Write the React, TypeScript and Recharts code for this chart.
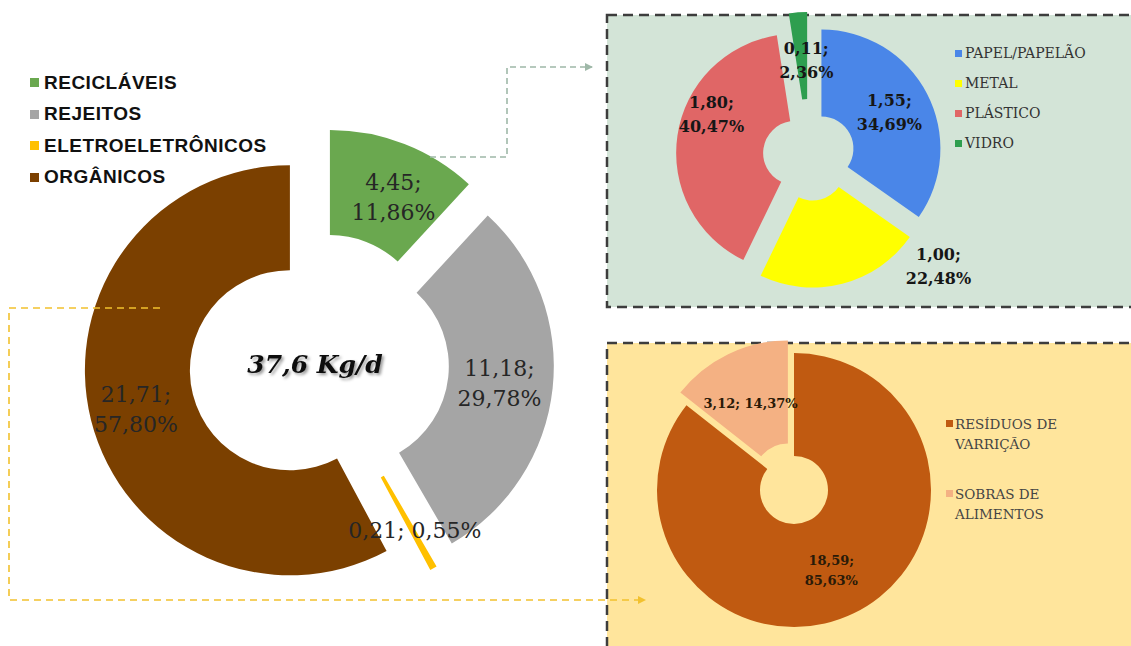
import React from 'react'
import { PieChart, Pie, Cell } from 'recharts'

// main donut: daily waste (kg/d)
const mainNames = ['RECICLÁVEIS', 'REJEITOS', 'ELETROELETRÔNICOS', 'ORGÂNICOS']
const mainValues = [4.45, 11.18, 0.21, 21.71]
const mainPercents = [11.86, 29.78, 0.55, 57.8]
const mainTotal = '37,6 Kg/d'

// recyclables breakdown
const recNames = ['PAPEL/PAPELÃO', 'METAL', 'PLÁSTICO', 'VIDRO']
const recValues = [1.55, 1.0, 1.8, 0.11]
const recPercents = [34.69, 22.48, 40.47, 2.36]

// organics breakdown
const orgNames = ['RESÍDUOS DE VARRIÇÃO', 'SOBRAS DE ALIMENTOS']
const orgValues = [18.59, 3.12]
const orgPercents = [85.63, 14.37]

const mainColors = ['#6aa84f', '#a5a5a5', '#ffc000', '#7b4000']
const recColors = ['#4a86e8', '#ffff00', '#e06666', '#2e9e4f']
const orgColors = ['#c05a11', '#f4b183']

const fmt = (n: number) => n.toFixed(2).replace('.', ',')

type PieCfg = {
  id: string
  names: string[]
  values: number[]
  percents: number[]
  colors: string[]
  cx: number
  cy: number
  inner: number
  outer: number
  explode: number[]
  nudge: [number, number][]
  single: boolean[]
  font: { size: number; weight: number; color: string; lh: number }
}

function offsets(cfg: PieCfg) {
  const total = cfg.values.reduce((a, b) => a + b, 0)
  let acc = 0
  return cfg.values.map((v, k) => {
    const mid = ((acc + v / 2) / total) * 2 * Math.PI
    acc += v
    return [cfg.explode[k] * Math.sin(mid), -cfg.explode[k] * Math.cos(mid)]
  })
}

function explodedPies(cfg: PieCfg) {
  const data = cfg.names.map((n, i) => ({ name: n, value: cfg.values[i] }))
  const offs = offsets(cfg)
  const sectors = cfg.values.map((_, k) => (
    <Pie
      key={cfg.id + 's' + k}
      data={data}
      dataKey="value"
      cx={cfg.cx + offs[k][0]}
      cy={cfg.cy + offs[k][1]}
      innerRadius={cfg.inner}
      outerRadius={cfg.outer}
      startAngle={90}
      endAngle={-270}
      stroke="none"
      legendType="none"
      isAnimationActive={false}
    >
      {data.map((d, i) => (
        <Cell key={d.name} fill={i === k ? cfg.colors[i] : 'transparent'} />
      ))}
    </Pie>
  ))
  const labels = cfg.values.map((_, k) => (
    <Pie
      key={cfg.id + 'l' + k}
      data={data}
      dataKey="value"
      cx={cfg.cx + offs[k][0]}
      cy={cfg.cy + offs[k][1]}
      innerRadius={cfg.inner}
      outerRadius={cfg.outer}
      startAngle={90}
      endAngle={-270}
      stroke="none"
      fill="transparent"
      legendType="none"
      labelLine={false}
      isAnimationActive={false}
      label={(p: any) => {
        if (p.index !== k) return null
        const RAD = Math.PI / 180
        const r = (p.innerRadius + p.outerRadius) / 2
        const x = p.cx + r * Math.cos(-p.midAngle * RAD) + cfg.nudge[k][0]
        const y = p.cy + r * Math.sin(-p.midAngle * RAD) + cfg.nudge[k][1]
        const lines = cfg.single[k]
          ? [`${fmt(cfg.values[k])}; ${fmt(cfg.percents[k])}%`]
          : [`${fmt(cfg.values[k])};`, `${fmt(cfg.percents[k])}%`]
        const y0 = y - ((lines.length - 1) * cfg.font.lh) / 2
        return (
          <text
            textAnchor="middle"
            dominantBaseline="central"
            fontFamily="DejaVu Serif"
            fontSize={cfg.font.size}
            fontWeight={cfg.font.weight}
            fill={cfg.font.color}
          >
            {lines.map((t, i) => (
              <tspan key={i} x={x} y={y0 + i * cfg.font.lh}>
                {t}
              </tspan>
            ))}
          </text>
        )
      }}
    >
      {data.map((d) => (
        <Cell key={d.name} fill="transparent" />
      ))}
    </Pie>
  ))
  return [...sectors, ...labels]
}

const mainCfg: PieCfg = {
  id: 'main',
  names: mainNames,
  values: mainValues,
  percents: mainPercents,
  colors: mainColors,
  cx: 319,
  cy: 363,
  inner: 100,
  outer: 205,
  explode: [30, 30, 30, 30],
  nudge: [[8, 4], [-1, 0], [7, 8], [-6, 2]],
  single: [false, false, true, false],
  font: { size: 22, weight: 400, color: '#262626', lh: 30 },
}

const recCfg: PieCfg = {
  id: 'rec',
  names: recNames,
  values: recValues,
  percents: recPercents,
  colors: recColors,
  cx: 809,
  cy: 155,
  inner: 32,
  outer: 119,
  explode: [14, 14, 14, 24],
  nudge: [[1, -2], [107, 24], [-9, -28], [5, 4]],
  single: [false, false, false, false],
  font: { size: 16, weight: 700, color: '#161616', lh: 24 },
}

const orgCfg: PieCfg = {
  id: 'org',
  names: orgNames,
  values: orgValues,
  percents: orgPercents,
  colors: orgColors,
  cx: 794,
  cy: 490,
  inner: 34,
  outer: 137,
  explode: [0, 14],
  nudge: [[0, 3], [0, 3]],
  single: [false, true],
  font: { size: 13, weight: 700, color: '#2a1a08', lh: 20 },
}

const serif = '"DejaVu Serif", serif'

export default function App() {
  return (
    <div style={{ position: 'absolute', left: 0, top: 0, width: 1131, height: 646, overflow: 'hidden', background: '#fff' }}>
      {/* boxes behind the sub-charts */}
      <svg width={1131} height={646} style={{ position: 'absolute', left: 0, top: 0 }}>
        <rect x={607} y={15} width={600} height={292} fill="#d3e4d7" stroke="#3d3d3d" strokeWidth={2.5} strokeDasharray="10 6" />
        <rect x={607} y={343} width={600} height={400} fill="#ffe59c" stroke="#3d3d3d" strokeWidth={2.5} strokeDasharray="10 6" />
      </svg>

      <div style={{ position: 'absolute', left: 0, top: 0 }}>
        <PieChart width={1131} height={646} margin={{ top: 0, right: 0, bottom: 0, left: 0 }}>
          {explodedPies(mainCfg)}
          {explodedPies(recCfg)}
          {explodedPies(orgCfg)}
        </PieChart>
      </div>

      {/* connectors + centre total */}
      <svg width={1131} height={646} style={{ position: 'absolute', left: 0, top: 0, pointerEvents: 'none' }}>
        <defs>
          <marker id="arrG" markerWidth="8" markerHeight="8" refX="7" refY="4" orient="auto" markerUnits="userSpaceOnUse">
            <path d="M0,0 L8,4 L0,8 Z" fill="#9fb8a8" />
          </marker>
          <marker id="arrY" markerWidth="8" markerHeight="8" refX="7" refY="4" orient="auto" markerUnits="userSpaceOnUse">
            <path d="M0,0 L8,4 L0,8 Z" fill="#f2c12e" />
          </marker>
          <filter id="shadow" x="-10%" y="-30%" width="130%" height="170%">
            <feDropShadow dx="2" dy="2" stdDeviation="1.5" floodColor="#000" floodOpacity="0.4" />
          </filter>
        </defs>
        <path d="M430,157 H507 V67 H592" fill="none" stroke="#9fb8a8" strokeWidth={1.6} strokeDasharray="6 4" markerEnd="url(#arrG)" />
        <path d="M160,308 H9 V600 H645" fill="none" stroke="#f2c12e" strokeWidth={1.6} strokeDasharray="7 5" markerEnd="url(#arrY)" />
        <text x={315} y={364} textAnchor="middle" dominantBaseline="central" fontFamily="DejaVu Serif" fontStyle="italic" fontWeight={700} fontSize={25} fill="#111" filter="url(#shadow)">
          {mainTotal}
        </text>
      </svg>

      {/* main legend */}
      <div style={{ position: 'absolute', left: 30, top: 67, fontFamily: '"Liberation Sans", Arial, sans-serif', fontWeight: 700, fontSize: 19, letterSpacing: 0.5, color: '#111' }}>
        {mainNames.map((n, i) => (
          <div key={n} style={{ display: 'flex', alignItems: 'center', height: 31.5 }}>
            <span style={{ width: 9, height: 9, background: mainColors[i], marginRight: 5 }} />
            {n}
          </div>
        ))}
      </div>

      {/* recyclables legend */}
      <div style={{ position: 'absolute', left: 955, top: 38, fontFamily: serif, fontSize: 14, color: '#333' }}>
        {recNames.map((n, i) => (
          <div key={n} style={{ display: 'flex', alignItems: 'center', height: 30 }}>
            <span style={{ width: 7, height: 7, background: recColors[i], marginRight: 3 }} />
            {n}
          </div>
        ))}
      </div>

      {/* organics legend */}
      <div style={{ position: 'absolute', left: 946, top: 414, fontFamily: serif, fontSize: 13.5, color: '#444', lineHeight: '20px' }}>
        {orgNames.map((n, i) => {
          const words = n.split(' ')
          const first = words.slice(0, -1).join(' ')
          const rest = words[words.length - 1]
          return (
            <div key={n} style={{ position: 'relative', paddingLeft: 9, marginBottom: i === 0 ? 30 : 0 }}>
              <span style={{ position: 'absolute', left: 0, top: 6, width: 7, height: 7, background: orgColors[i] }} />
              <div>{first}</div>
              <div>{rest}</div>
            </div>
          )
        })}
      </div>
    </div>
  )
}
